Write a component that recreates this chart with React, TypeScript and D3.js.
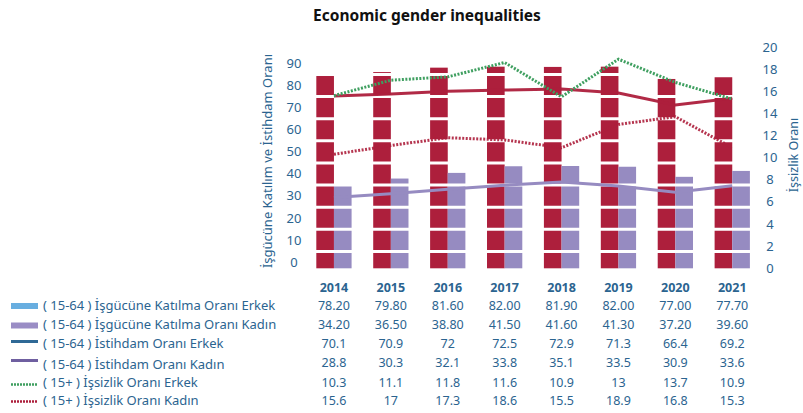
import React from "react";
import * as d3 from "d3";

const years = ["2014", "2015", "2016", "2017", "2018", "2019", "2020", "2021"];
const lfpMale = [78.2, 79.8, 81.6, 82.0, 81.9, 82.0, 77.0, 77.7];
const lfpFemale = [34.2, 36.5, 38.8, 41.5, 41.6, 41.3, 37.2, 39.6];
const empMale = [70.1, 70.9, 72, 72.5, 72.9, 71.3, 66.4, 69.2];
const empFemale = [28.8, 30.3, 32.1, 33.8, 35.1, 33.5, 30.9, 33.6];
const unempMale = [10.3, 11.1, 11.8, 11.6, 10.9, 13, 13.7, 10.9];
const unempFemale = [15.6, 17, 17.3, 18.6, 15.5, 18.9, 16.8, 15.3];
const leftTicks = [0, 10, 20, 30, 40, 50, 60, 70, 80, 90];
const rightTicks = [0, 2, 4, 6, 8, 10, 12, 14, 16, 18, 20];

const legendLabels = [
  "( 15-64 ) İşgücüne Katılma Oranı Erkek",
  "( 15-64 ) İşgücüne Katılma Oranı Kadın",
  "( 15-64 ) İstihdam Oranı Erkek",
  "( 15-64 ) İstihdam Oranı Kadın",
  "( 15+ ) İşsizlik Oranı Erkek",
  "( 15+ ) İşsizlik Oranı Kadın",
];

const FONT = "'Noto Sans', sans-serif";
const TXT = "#2b6490";
const RED = "#ad1f3c";
const LAV = "#968bc1";
const GREEN = "#3f9f60";

export default function App() {
  const x = d3.scaleBand<string>().domain(years).range([305.5, 760.7]).paddingInner(0.38).paddingOuter(0.19);
  const xs = d3.scaleBand<string>().domain(["m", "f"]).range([0, x.bandwidth()]);
  const yL = d3.scaleLinear().domain([0, 90]).range([268.3, 47]);
  const yR = d3.scaleLinear().domain([0, 20]).range([268.3, 47]);
  const cx = (i: number) => (x(years[i]) as number) + x.bandwidth() / 2;

  const lineL = d3.line<number>().x((_, i) => cx(i)).y((d) => yL(d));
  const lineR = d3.line<number>().x((_, i) => cx(i)).y((d) => yR(d));

  const tableRows: { vals: string[]; y: number }[] = [
    { vals: lfpMale.map((v) => v.toFixed(2)), y: 305.5 },
    { vals: lfpFemale.map((v) => v.toFixed(2)), y: 324.7 },
    { vals: empMale.map(String), y: 343.3 },
    { vals: empFemale.map(String), y: 362.5 },
    { vals: unempMale.map(String), y: 382.5 },
    { vals: unempFemale.map(String), y: 400.3 },
  ];

  return (
    <svg width={803} height={413} style={{ position: "absolute", left: 0, top: 0, background: "#fff" }} fontFamily={FONT}>
      <text x={427} y={21} textAnchor="middle" fontSize={15.5} fontWeight={700} fill="#111">
        Economic gender inequalities
      </text>

      {/* bars */}
      {years.map((yr, i) => (
        <g key={yr} transform={`translate(${x(yr)},0)`}>
          <rect x={xs("m")} width={xs.bandwidth()} y={yL(lfpMale[i])} height={yL(0) - yL(lfpMale[i])} fill={RED} />
          <rect x={xs("f")} width={xs.bandwidth()} y={yL(lfpFemale[i])} height={yL(0) - yL(lfpFemale[i])} fill={LAV} />
        </g>
      ))}

      {/* white grid lines over bars */}
      {rightTicks.slice(1, 10).map((t) => (
        <line key={t} x1={300} x2={765} y1={yR(t) + 5.3} y2={yR(t) + 5.3} stroke="#fff" strokeWidth={3} />
      ))}

      {/* lines */}
      <path d={lineL(empMale) || ""} fill="none" stroke={RED} strokeWidth={3} strokeOpacity={0.95} />
      <path d={lineL(empFemale) || ""} fill="none" stroke={LAV} strokeWidth={3} />
      <path d={lineR(unempFemale) || ""} fill="none" stroke={GREEN} strokeWidth={3} strokeDasharray="2 1.5" />
      <path d={lineR(unempMale) || ""} fill="none" stroke={RED} strokeWidth={3} strokeDasharray="2 1.5" strokeOpacity={0.9} />

      {/* left axis */}
      {leftTicks.map((t, i) => (
        <text key={t} x={294} y={yR(i * 2) - 6} dy="0.35em" textAnchor="middle" fontSize={13} fill={TXT}>
          {t}
        </text>
      ))}
      <text transform="translate(267,161) rotate(-90)" textAnchor="middle" dy="0.35em" fontSize={13} fill={TXT}>
        İşgücüne Katılım ve İstihdam Oranı
      </text>

      {/* right axis */}
      {rightTicks.map((t) => (
        <text key={t} x={770} y={yR(t)} dy="0.35em" textAnchor="middle" fontSize={13} fill={TXT}>
          {t}
        </text>
      ))}
      <text transform="translate(794,155) rotate(-90)" textAnchor="middle" dy="0.35em" fontSize={12.5} fill={TXT}>
        İşsizlik Oranı
      </text>

      {/* year labels */}
      {years.map((yr, i) => (
        <text key={yr} x={cx(i)} y={287.5} dy="0.35em" textAnchor="middle" fontSize={12.5} fontWeight={700} fill={TXT}>
          {yr}
        </text>
      ))}

      {/* legend swatches */}
      <rect x={11} y={303} width={27} height={6} fill="#68aee0" />
      <rect x={11} y={322.5} width={27} height={6} fill="#9a8dc5" />
      <line x1={11} x2={38} y1={341.5} y2={341.5} stroke="#2f6996" strokeWidth={3} />
      <line x1={11} x2={38} y1={360.5} y2={360.5} stroke="#6f5fa0" strokeWidth={3} />
      <line x1={11} x2={38} y1={384.5} y2={384.5} stroke={GREEN} strokeWidth={2.5} strokeDasharray="2 1" />
      <line x1={11} x2={38} y1={401.5} y2={401.5} stroke={RED} strokeWidth={2.5} strokeDasharray="2 1" />

      {tableRows.map((row, r) => (
        <g key={r}>
          <text x={43} y={row.y + (r === 3 ? 1.5 : 0)} dy="0.35em" fontSize={13} fill={TXT}>
            {legendLabels[r]}
          </text>
          {row.vals.map((v, i) => (
            <text key={i} x={cx(i)} y={row.y} dy="0.35em" textAnchor="middle" fontSize={12.5} fill={TXT}>
              {v}
            </text>
          ))}
        </g>
      ))}
    </svg>
  );
}
